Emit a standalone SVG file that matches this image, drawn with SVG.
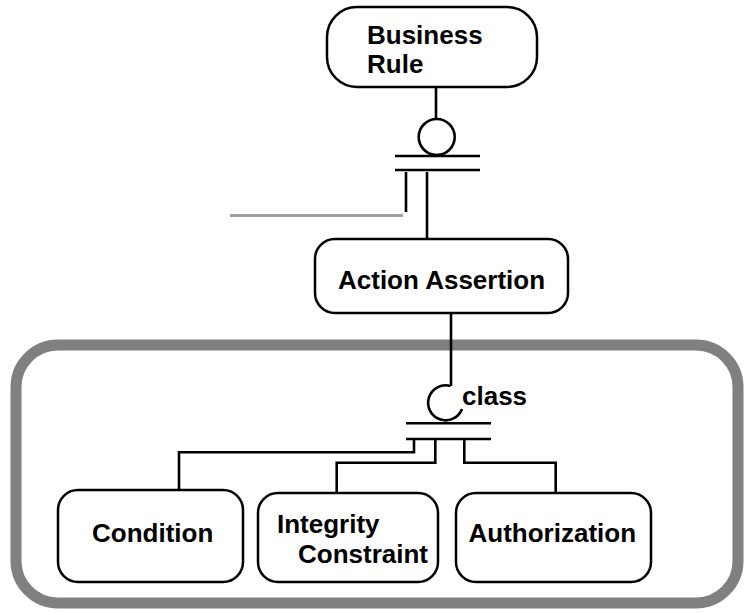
<svg xmlns="http://www.w3.org/2000/svg" width="744" height="613" viewBox="0 0 744 613">
  <style>
    .box { fill: #ffffff; stroke: #000000; stroke-width: 2.5; }
    .lbl { font-family: "Liberation Sans", Arial, sans-serif; font-weight: bold; font-size: 26px; fill: #000000; }
    .wire { fill: none; stroke: #000000; stroke-width: 2.6; stroke-linejoin: miter; stroke-linecap: butt; }
    .grey { fill: none; stroke: #a0a0a0; stroke-width: 3; }
    .frame { fill: none; stroke: #808080; stroke-width: 11; }
  </style>
  <rect x="0" y="0" width="744" height="613" fill="#ffffff"/>

  <!-- subtype partition frame -->
  <g id="partition">
    <rect class="frame" x="16" y="345" width="722" height="258" rx="42" ry="42"/>
  </g>

  <!-- connectors -->
  <g id="connectors">
    <!-- Business Rule to Action Assertion -->
    <line class="wire" x1="436" y1="87" x2="436" y2="119"/>
    <circle class="wire" cx="436.7" cy="137" r="18"/>
    <line class="wire" x1="395" y1="156" x2="480" y2="156"/>
    <line class="wire" x1="395" y1="170" x2="480" y2="170"/>
    <line class="wire" x1="406" y1="172" x2="406" y2="212"/>
    <line class="wire" x1="427" y1="172" x2="427" y2="239"/>
    <line class="grey" x1="230" y1="215.5" x2="403" y2="215.5"/>

    <!-- Action Assertion to its subtypes -->
    <line class="wire" x1="451" y1="313" x2="451" y2="386"/>
    <path class="wire" d="M 450.5 386 A 17.5 17.5 0 1 0 462 409"/>
    <line class="wire" x1="406" y1="423.3" x2="491" y2="423.3"/>
    <line class="wire" x1="406" y1="439" x2="491" y2="439"/>
    <polyline class="wire" points="414,440 414,452.3 179,452.3 179,490"/>
    <polyline class="wire" points="435.3,440 435.3,462.7 336.7,462.7 336.7,493"/>
    <polyline class="wire" points="464.3,440 464.3,462.7 555.7,462.7 555.7,493"/>
  </g>

  <g id="class-label">
    <text class="lbl" x="462" y="405">class</text>
  </g>

  <g id="business-rule">
    <rect class="box" x="327" y="7" width="210" height="80" rx="30" ry="30"/>
    <text class="lbl" x="367" y="43.5">Business</text>
    <text class="lbl" x="367" y="72.5">Rule</text>
  </g>

  <g id="action-assertion">
    <rect class="box" x="315" y="239" width="253" height="74" rx="20" ry="20"/>
    <text class="lbl" x="338" y="289">Action Assertion</text>
  </g>

  <g id="condition">
    <rect class="box" x="58" y="490" width="185" height="92" rx="20" ry="20"/>
    <text class="lbl" x="92" y="542">Condition</text>
  </g>

  <g id="integrity-constraint">
    <rect class="box" x="258" y="493" width="180" height="89" rx="20" ry="20"/>
    <text class="lbl" x="277" y="533">Integrity</text>
    <text class="lbl" x="298" y="563">Constraint</text>
  </g>

  <g id="authorization">
    <rect class="box" x="456" y="493" width="195" height="89" rx="20" ry="20"/>
    <text class="lbl" x="468.5" y="542">Authorization</text>
  </g>
</svg>
